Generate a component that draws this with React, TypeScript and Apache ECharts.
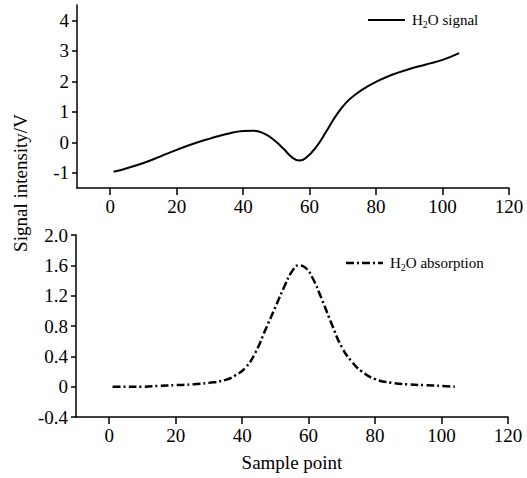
import React, { useEffect, useRef } from "react";
import * as echarts from "echarts";

const signalX = [1, 5, 10, 15, 20, 25, 30, 35, 40, 43, 46, 49, 52, 55, 57, 59, 62, 65, 68, 71, 74, 77, 80, 85, 90, 95, 100, 105];
const signalY = [-0.97, -0.85, -0.68, -0.47, -0.25, -0.05, 0.12, 0.27, 0.37, 0.38, 0.3, 0.1, -0.2, -0.52, -0.6, -0.5, -0.15, 0.35, 0.88, 1.3, 1.58, 1.8, 1.98, 2.22, 2.4, 2.55, 2.7, 2.92];

const absX = [1, 5, 10, 15, 20, 25, 30, 35, 38, 41, 44, 47, 50, 53, 55, 57, 59, 61, 64, 67, 70, 73, 76, 80, 85, 90, 95, 100, 104];
const absY = [0, 0, 0, 0.01, 0.02, 0.03, 0.05, 0.09, 0.15, 0.25, 0.45, 0.75, 1.05, 1.35, 1.52, 1.6, 1.57, 1.45, 1.15, 0.82, 0.52, 0.33, 0.2, 0.1, 0.05, 0.03, 0.02, 0.01, 0];

const xTicks = [0, 20, 40, 60, 80, 100, 120];
const topYTicks = [-1, 0, 1, 2, 3, 4];

const FONT = "Liberation Serif";

export default function App() {
  const ref = useRef<HTMLDivElement>(null);
  useEffect(() => {
    const chart = echarts.init(ref.current!, undefined, { renderer: "svg" });
    const axisLine = { show: true, onZero: false, lineStyle: { color: "#000", width: 1.5 } };
    const big = { t: { fontSize: 19, fontFamily: FONT, color: "#000" } };
    const label = { color: "#000", fontSize: 19, fontFamily: FONT, rich: big };
    const xAxisCommon = (gridIndex: number) => ({
      type: "value",
      gridIndex,
      min: -10,
      max: 120,
      splitLine: { show: false },
      axisLine,
      axisTick: { show: true, length: 7, customValues: xTicks, lineStyle: { color: "#000", width: 1.5 } },
      axisLabel: { ...label, margin: 9, customValues: xTicks, formatter: (v: number) => `{t|${v}}` },
    });
    const rich = {
      a: { fontSize: 15, fontFamily: FONT, color: "#000" },
      s: { fontSize: 10, fontFamily: FONT, color: "#000", padding: [8, 0, 0, 0] },
    };
    chart.setOption({
      animation: false,
      backgroundColor: "#fff",
      grid: [
        { left: 77, right: 18, top: 5, bottom: 290 },
        { left: 76, right: 19, top: 235, bottom: 61 },
      ],
      xAxis: [
        xAxisCommon(0),
        {
          ...xAxisCommon(1),
          name: "{t|Sample point}",
          nameLocation: "middle",
          nameGap: 36,
          nameTextStyle: { color: "#000", fontSize: 19, fontFamily: FONT, rich: big },
        },
      ],
      yAxis: [
        {
          type: "value",
          gridIndex: 0,
          min: -1.5,
          max: 4.5,
          splitLine: { show: false },
          axisLine,
          axisTick: { show: true, length: 5, customValues: topYTicks, lineStyle: { color: "#000", width: 1.5 } },
          axisLabel: { ...label, margin: 8, customValues: topYTicks, formatter: (v: number) => `{t|${v}}` },
        },
        {
          type: "value",
          gridIndex: 1,
          min: -0.4,
          max: 2.0,
          interval: 0.4,
          splitLine: { show: false },
          axisLine,
          axisTick: { show: true, length: 5, lineStyle: { color: "#000", width: 1.5 } },
          axisLabel: {
            ...label,
            margin: 8,
            formatter: (v: number) => `{t|${Math.abs(v) < 1e-9 ? "0" : v.toFixed(1)}}`,
          },
        },
      ],
      series: [
        {
          type: "line",
          xAxisIndex: 0,
          yAxisIndex: 0,
          smooth: true,
          symbol: "none",
          lineStyle: { color: "#000", width: 2 },
          data: signalX.map((x, i) => [x, signalY[i]]),
        },
        {
          type: "line",
          xAxisIndex: 1,
          yAxisIndex: 1,
          smooth: true,
          symbol: "none",
          lineStyle: { color: "#000", width: 2.5, type: [8, 3, 2, 3] },
          data: absX.map((x, i) => [x, absY[i]]),
        },
      ],
      graphic: [
        {
          type: "text",
          x: 20,
          y: 183,
          rotation: Math.PI / 2,
          style: {
            text: "{t|Signal intensity/V}",
            rich: big,
            fontSize: 19,
            fontFamily: FONT,
            fill: "#000",
            align: "center",
            verticalAlign: "middle",
          },
        },
        {
          type: "line",
          shape: { x1: 368, y1: 20, x2: 405, y2: 20 },
          style: { stroke: "#000", lineWidth: 2 },
        },
        {
          type: "text",
          x: 412,
          y: 20,
          style: {
            text: "{a|H}{s|2}{a|O signal}",
            rich,
            verticalAlign: "middle",
            align: "left",
          },
        },
        {
          type: "line",
          shape: { x1: 346, y1: 263, x2: 383, y2: 263 },
          style: { stroke: "#000", lineWidth: 2.5, lineDash: [8, 3, 2, 3] },
        },
        {
          type: "text",
          x: 390,
          y: 263,
          style: {
            text: "{a|H}{s|2}{a|O absorption}",
            rich,
            verticalAlign: "middle",
            align: "left",
          },
        },
      ],
    });
    return () => chart.dispose();
  }, []);
  return (
    <div
      ref={ref}
      style={{ position: "fixed", left: 0, top: 0, width: 527, height: 478, background: "#fff" }}
    />
  );
}
